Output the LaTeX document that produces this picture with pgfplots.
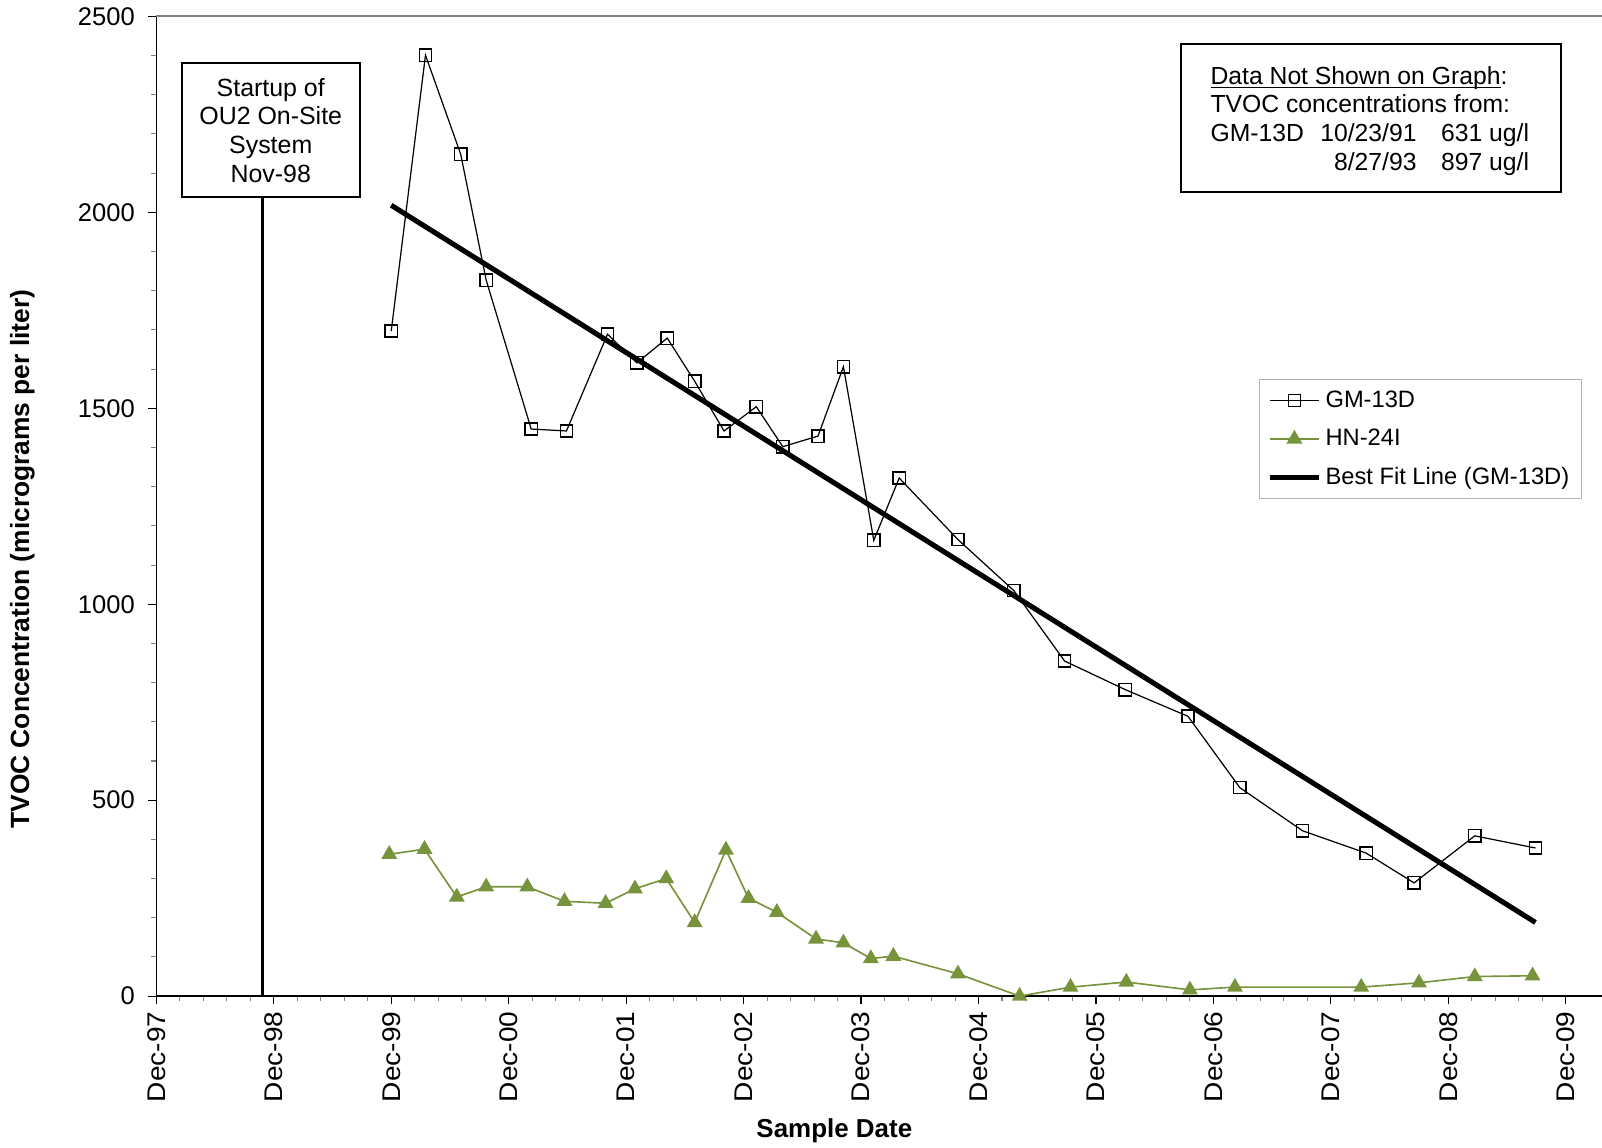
\documentclass[border=0pt]{standalone}
\usepackage{fontspec}
\setmainfont{Liberation Sans}
\usepackage{graphicx}
\usepackage{pgfplots}
\usepackage{pgfplotstable}
\pgfplotsset{compat=1.18}
\definecolor{olivegreen}{RGB}{119,147,60}
\newcommand{\xl}[1]{\scalebox{1.1}[1.0]{#1}}

\pgfplotstableread{
m v
24.0 1697
27.5 2401
31.1 2148
33.7 1827
38.3 1447
41.9 1442
46.1 1689
49.1 1616
52.2 1679
55.0 1569
58.0 1442
61.3 1504
64.0 1402
67.6 1429
70.2 1606
73.3 1163
75.9 1322
81.9 1165
87.6 1035
92.8 855
99.0 782
105.4 714
110.7 532
117.1 422
123.6 365
128.5 289
134.7 409
140.9 378
}\gmdata

\pgfplotstableread{
m v
23.8 362
27.4 375
30.7 253
33.7 279
37.9 279
41.7 242
45.9 237
48.9 274
52.1 300
55.0 188
58.2 373
60.5 250
63.4 214
67.4 146
70.2 136
73.0 96
75.3 102
81.9 57
88.2 0
93.4 23
99.1 36
105.6 16
110.2 23
123.1 23
129.0 34
134.7 50
140.6 52
}\hndata

\begin{document}
\begin{tikzpicture}
\begin{axis}[
  at={(0,0)}, anchor=south west,
  scale only axis, width=707.5bp, height=479.5bp,
  xmin=0, xmax=147.7, ymin=0, ymax=2500,
  clip=false,
  axis x line*=bottom, axis y line*=left,
  x axis line style={line width=1bp, black},
  y axis line style={line width=0.75bp, black},
  xtick={0,12,...,144},
  xticklabels={\xl{Dec-97},\xl{Dec-98},\xl{Dec-99},\xl{Dec-00},\xl{Dec-01},\xl{Dec-02},\xl{Dec-03},\xl{Dec-04},\xl{Dec-05},\xl{Dec-06},\xl{Dec-07},\xl{Dec-08},\xl{Dec-09}},
  minor x tick num=4,
  ytick={0,500,...,2500}, minor y tick num=4,
  tick align=outside,
  major tick length=4bp, minor tick length=2.5bp,
  every major tick/.append style={black, line width=0.6bp},
  every minor tick/.append style={gray, line width=0.5bp},
  tick label style={font=\fontsize{12.5bp}{15bp}\selectfont},
  x tick label style={rotate=90, anchor=east},
  y tick label style={xshift=-3bp},
  /pgf/number format/.cd, set thousands separator={}, assume math mode=true, /pgfplots/.cd,
  xlabel={Sample Date},
  ylabel={TVOC Concentration (micrograms per liter)},
  xlabel style={at={(axis description cs:0.469,-0.1376)}, anchor=center, font=\bfseries\fontsize{12.7bp}{15bp}\selectfont},
  ylabel style={at={(axis description cs:-0.0926,0.446)}, anchor=center, font=\bfseries\fontsize{12.9bp}{15bp}\selectfont},
  legend style={at={(axis description cs:0.7625,0.6298)}, anchor=north west,
    draw=gray!60, line width=0.5bp, font=\fontsize{11.6bp}{14bp}\selectfont,
    inner xsep=4bp, inner ysep=3.5bp, row sep=5.2bp},
  legend cell align=left,
  legend image code/.code={\draw[mark repeat=2,mark phase=2] plot coordinates {(0bp,0bp)(12bp,0bp)(24bp,0bp)};},
]
\addplot[black, line width=0.6bp, mark=square, mark size=3bp, mark options={solid, line width=0.7bp}] table[x=m, y=v] {\gmdata};
\addlegendentry{GM-13D}
\addplot[olivegreen, line width=0.8bp, mark=triangle*, mark size=3.7bp, mark options={solid, fill=olivegreen}] table[x=m, y=v] {\hndata};
\addlegendentry{HN-24I}
\addplot[black, line width=2.5bp] coordinates {(24,2018) (140.9,188)};
\addlegendentry{Best Fit Line (GM-13D)}

\draw[gray, line width=1bp] (rel axis cs:0,1) -- (rel axis cs:1,1);
\draw[black, line width=1bp] (axis cs:10.85,0) -- (axis cs:10.85,2039);
\node[draw, line width=1bp, align=center, minimum width=87bp, minimum height=65.5bp, inner sep=0pt, fill=white,
  font=\fontsize{12.2bp}{14bp}\selectfont] at (axis cs:11.69,2209.3)
  {Startup of\\OU2 On-Site\\System\\Nov-98};
\draw[line width=1bp, fill=white] (axis cs:104.66,2051.6) rectangle (axis cs:143.48,2429.6);
\node[inner sep=0pt, font=\fontsize{12.1bp}{14bp}\selectfont] at (axis cs:123.98,2231.5)
  {\begin{tabular}{@{}l@{\hspace{8bp}}r@{\hspace{12bp}}r@{}}
   \multicolumn{3}{@{}l@{}}{\underline{\smash{Data Not Shown on Graph}}:}\\
   \multicolumn{3}{@{}l@{}}{TVOC concentrations from:}\\
   GM-13D & 10/23/91 & 631 ug/l\\
    & 8/27/93 & 897 ug/l
   \end{tabular}};
\end{axis}
\pgfresetboundingbox
\path (-76.5bp,-74bp) rectangle (707.5bp,487.5bp);
\end{tikzpicture}
\end{document}
